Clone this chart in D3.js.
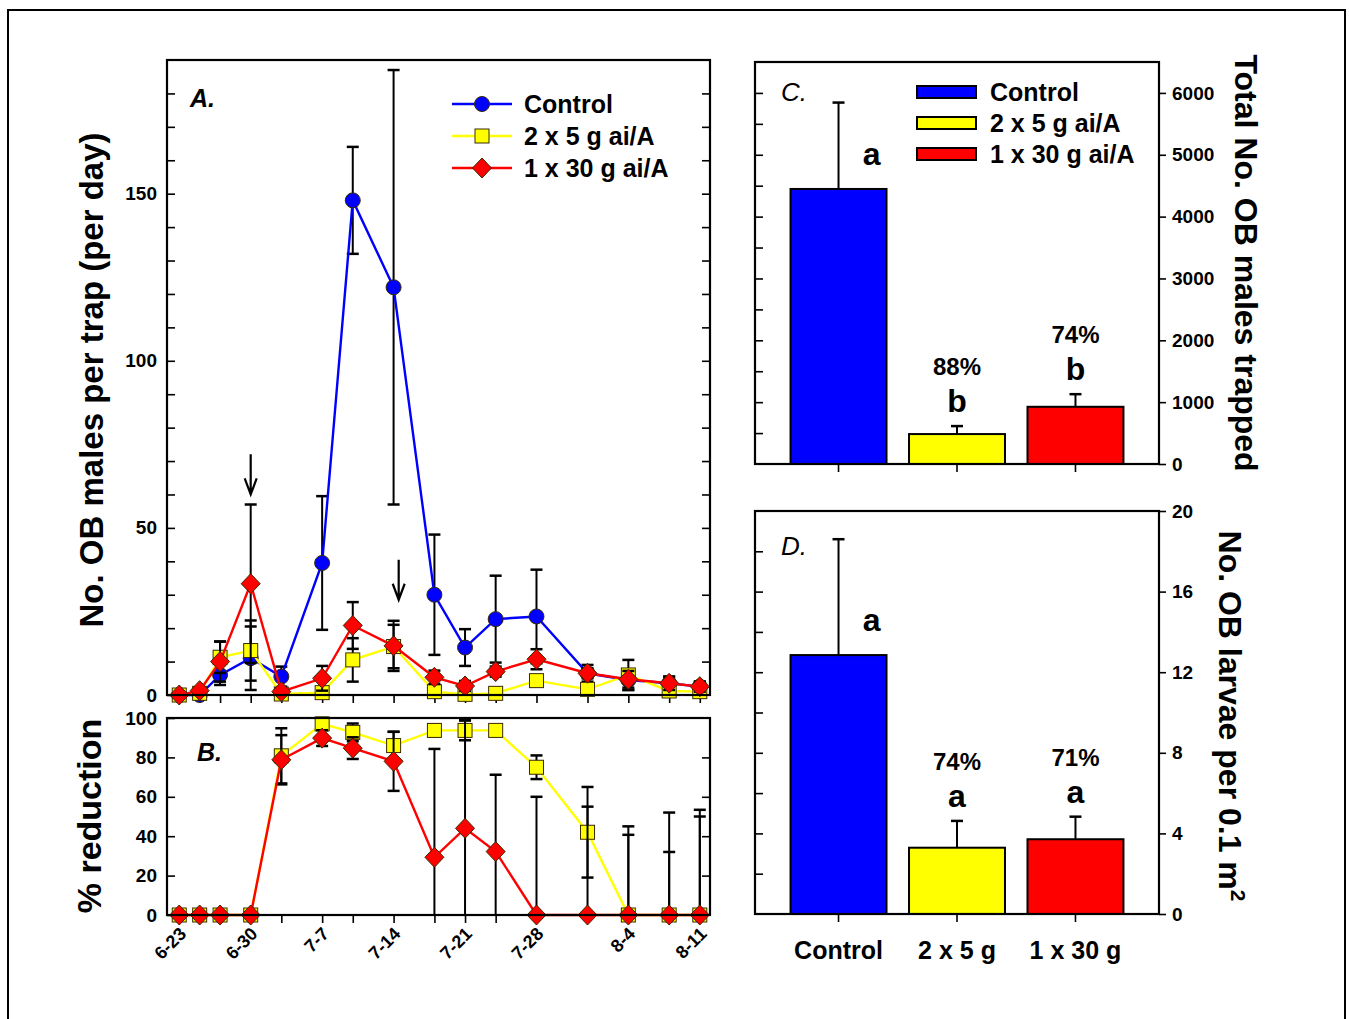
<!DOCTYPE html>
<html>
<head>
<meta charset="utf-8">
<script src="https://cdn.jsdelivr.net/npm/d3@7"></script>
<style>
  body { margin: 0; background: #fff; }
  text { font-family: "Liberation Sans", Arial, sans-serif; font-weight: bold; fill: #000; }
  .tick line { stroke: #000; stroke-width: 1.6; }
  .tick text { font-size: 19px; }
</style>
</head>
<body>
<svg id="fig" width="1349" height="1019"></svg>
<script>
"use strict";

// sampling dates, given as days after 6-23
var sampleDays = [0, 2, 4, 7, 10, 14, 17, 21, 25, 28, 31, 35, 40, 44, 48, 51];
var dateTickDays = [0, 7, 14, 21, 28, 35, 44, 51];
var dateTickLabels = ["6-23", "6-30", "7-7", "7-14", "7-21", "7-28", "8-4", "8-11"];

var seriesNames = ["Control", "2 x 5 g ai/A", "1 x 30 g ai/A"];
var seriesColors = ["#0000ff", "#ffff00", "#ff0000"];
var seriesShapes = ["circle", "square", "diamond"];

// A. males per trap per day (mean and SE)
var controlMales = [0, 0, 6, 11, 5.5, 39.5, 148, 122, 30, 14.2, 22.7, 23.5, 6.5, 4.5, 3.5, 2.5];
var controlMalesErr = [0, 0, 3, 9.5, 3, 20, 16, 65, 18, 5.5, 13, 14, 2.5, 3, 2, 1.5];
var lowMales = [0, 0.5, 11.3, 13.3, 0.3, 0.7, 10.5, 14.5, 1, 0.2, 0.5, 4.3, 1.7, 6, 1.2, 1];
var lowMalesErr = [0, 0.5, 4.7, 9, 0.5, 0.8, 6.5, 6.5, 1, 0.3, 0.5, 1.5, 1, 4.5, 1, 0.8];
var highMales = [0, 1.3, 10, 33.3, 1, 5, 20.8, 14.7, 5.3, 2.7, 7, 10.7, 6.5, 4.7, 3.5, 2.5];
var highMalesErr = [0, 0.8, 6, 23.7, 1, 3.7, 7, 7.5, 2, 1.5, 1.5, 3, 1.5, 2.5, 2, 1.5];

// arrows marking the applications
var arrowDays = [7, 21.5];
var arrowTop = [72, 40.5];
var arrowTip = [60, 28.5];

// B. % reduction
var lowReduction = [0, 0, 0, 0, 80.8, 97, 92.7, 86, 93.7, 93.7, 93.7, 75, 42, 0, 0, 0];
var lowReductionErr = [0, 0, 0, 0, 14, 3, 4.5, 7, 3, 5, 0, 6, 23, 40.7, 32, 50];
var highReduction = [0, 0, 0, 0, 78.8, 89.8, 84.7, 78, 29.3, 44, 32.2, 0, 0, 0, 0, 0];
var highReductionErr = [0, 0, 0, 0, 12.5, 4, 5.5, 15, 55, 55, 39, 60, 55, 45, 52, 53.4];

// C. total males trapped
var treatments = ["Control", "2 x 5 g", "1 x 30 g"];
var totalMales = [4447, 484, 925];
var totalMalesErr = [1397, 129, 204];
var totalLetters = ["a", "b", "b"];
var totalPct = ["", "88%", "74%"];

// D. larvae per 0.1 m2
var larvae = [12.85, 3.29, 3.71];
var larvaeErr = [5.75, 1.33, 1.12];
var larvaeLetters = ["a", "a", "a"];
var larvaePct = ["", "74%", "71%"];

var svg = d3.select("#fig");

// outer border of the figure
svg.append("rect")
   .attr("x", 8).attr("y", 10)
   .attr("width", 1337).attr("height", 1100)
   .attr("fill", "none").attr("stroke", "#000").attr("stroke-width", 2);

function frame(l, t, r, b) {
  svg.append("rect")
     .attr("x", l).attr("y", t)
     .attr("width", r - l).attr("height", b - t)
     .attr("fill", "none").attr("stroke", "#000").attr("stroke-width", 2.2);
}

function marker(g, shape, x, y, color) {
  var m;
  if (shape == "circle") {
    m = g.append("circle").attr("cx", x).attr("cy", y).attr("r", 7.5);
  } else if (shape == "square") {
    m = g.append("rect").attr("x", x - 7).attr("y", y - 7).attr("width", 14).attr("height", 14);
  } else {
    m = g.append("path").attr("d", "M" + x + "," + (y - 10) + "L" + (x + 9.5) + "," + y +
                                   "L" + x + "," + (y + 10) + "L" + (x - 9.5) + "," + y + "Z");
  }
  m.attr("fill", color).attr("stroke", "#3a2a00").attr("stroke-width", 1);
}

function errorBar(g, x, y0, y1, capTop, capBottom) {
  g.append("line").attr("x1", x).attr("x2", x).attr("y1", y0).attr("y2", y1)
   .attr("stroke", "#000").attr("stroke-width", 2);
  if (capTop) g.append("line").attr("x1", x - 6).attr("x2", x + 6).attr("y1", y1).attr("y2", y1)
               .attr("stroke", "#000").attr("stroke-width", 2.5);
  if (capBottom) g.append("line").attr("x1", x - 6).attr("x2", x + 6).attr("y1", y0).attr("y2", y0)
               .attr("stroke", "#000").attr("stroke-width", 2.5);
}

// draws one series: error bars, line, symbols
function drawSeries(g, x, y, means, errs, k) {
  var ymax = y.domain()[1];
  means.forEach(function (m, i) {
    if (!errs[i]) return;
    var lo = Math.max(0, m - errs[i]), hi = Math.min(ymax, m + errs[i]);
    errorBar(g, x(sampleDays[i]), y(lo), y(hi), m + errs[i] <= ymax, m - errs[i] > 0);
  });
  var line = d3.line()
               .x(function (d, i) { return x(sampleDays[i]); })
               .y(function (d) { return y(d); });
  g.append("path").datum(means)
   .attr("d", line).attr("fill", "none")
   .attr("stroke", seriesColors[k]).attr("stroke-width", 2.4);
  means.forEach(function (m, i) {
    marker(g, seriesShapes[k], x(sampleDays[i]), y(m), seriesColors[k]);
  });
}

// ---------- panel A ----------
var xDay = d3.scaleLinear().domain([-1.2, 52]).range([167, 710]);
var yA = d3.scaleLinear().domain([0, 190]).range([695, 60]);

svg.append("g").attr("transform", "translate(167,0)")
   .call(d3.axisLeft(yA).tickValues(d3.range(0, 181, 10)).tickSize(-8).tickSizeOuter(0).tickPadding(10)
           .tickFormat(function (d) { return d % 50 == 0 ? d : ""; }));
svg.append("g").attr("transform", "translate(710,0)")
   .call(d3.axisRight(yA).tickValues(d3.range(10, 181, 10)).tickSize(-8).tickSizeOuter(0).tickFormat(""));
svg.append("g").attr("transform", "translate(0,695)")
   .call(d3.axisBottom(xDay).tickValues(sampleDays).tickSize(8).tickSizeOuter(0).tickFormat(""));

var gA = svg.append("g");
drawSeries(gA, xDay, yA, controlMales, controlMalesErr, 0);
drawSeries(gA, xDay, yA, lowMales, lowMalesErr, 1);
drawSeries(gA, xDay, yA, highMales, highMalesErr, 2);

arrowDays.forEach(function (d, i) {
  var ax = xDay(d), t = yA(arrowTop[i]), b = yA(arrowTip[i]);
  svg.append("path")
     .attr("d", "M" + ax + "," + t + "L" + ax + "," + b +
                "M" + (ax - 6) + "," + (b - 16) + "L" + ax + "," + b + "L" + (ax + 6) + "," + (b - 16))
     .attr("fill", "none").attr("stroke", "#000").attr("stroke-width", 2.2);
});
frame(167, 60, 710, 695);

svg.append("text").attr("x", 190).attr("y", 107)
   .style("font-size", "25px").style("font-style", "italic").text("A.");

// legend of panel A
seriesNames.forEach(function (name, k) {
  var ly = 104 + k * 32;
  svg.append("line").attr("x1", 452).attr("x2", 512).attr("y1", ly).attr("y2", ly)
     .attr("stroke", seriesColors[k]).attr("stroke-width", 2.4);
  marker(svg, seriesShapes[k], 482, ly, seriesColors[k]);
  svg.append("text").attr("x", 524).attr("y", ly + 9)
     .style("font-size", "25px").text(name);
});

svg.append("text")
   .attr("transform", "translate(103,380) rotate(-90)")
   .attr("text-anchor", "middle")
   .style("font-size", "33px").text("No. OB males per trap (per day)");

// ---------- panel B ----------
var yB = d3.scaleLinear().domain([0, 100]).range([915, 718]);

svg.append("g").attr("transform", "translate(167,0)")
   .call(d3.axisLeft(yB).tickValues(d3.range(0, 101, 20)).tickSize(-8).tickSizeOuter(0).tickPadding(10));
svg.append("g").attr("transform", "translate(710,0)")
   .call(d3.axisRight(yB).tickValues(d3.range(20, 81, 20)).tickSize(-8).tickSizeOuter(0).tickFormat(""));
svg.append("g").attr("transform", "translate(0,915)")
   .call(d3.axisBottom(xDay).tickValues(sampleDays).tickSize(8).tickSizeOuter(0).tickFormat(""));

var gB = svg.append("g");
drawSeries(gB, xDay, yB, lowReduction, lowReductionErr, 1);
drawSeries(gB, xDay, yB, highReduction, highReductionErr, 2);
frame(167, 718, 710, 915);

dateTickDays.forEach(function (d, i) {
  svg.append("text")
     .attr("transform", "translate(" + (xDay(d) + 8) + ",935) rotate(-45)")
     .attr("text-anchor", "end")
     .style("font-size", "18px").text(dateTickLabels[i]);
});

svg.append("text").attr("x", 197).attr("y", 761)
   .style("font-size", "25px").style("font-style", "italic").text("B.");

svg.append("text")
   .attr("transform", "translate(101,816) rotate(-90)")
   .attr("text-anchor", "middle")
   .style("font-size", "34px").text("% reduction");

// ---------- panels C and D: bars ----------
var xBar = d3.scaleBand().domain(treatments).range([755, 1159])
             .paddingInner(0.19).paddingOuter(0.3);

function barPanel(top, bottom, yMax, values, errs, letters, pcts, minorStep, majorStep, fmt) {
  var y = d3.scaleLinear().domain([0, yMax]).range([bottom, top]);
  svg.append("g").attr("transform", "translate(755,0)")
     .call(d3.axisLeft(y).tickValues(d3.range(minorStep, yMax, minorStep)).tickSize(-8).tickSizeOuter(0).tickFormat(""));
  svg.append("g").attr("transform", "translate(1159,0)")
     .call(d3.axisRight(y).tickValues(d3.range(0, yMax + 0.001, majorStep)).tickSize(7).tickSizeOuter(0).tickPadding(6)
             .tickFormat(fmt));
  svg.append("g").attr("transform", "translate(0," + bottom + ")")
     .call(d3.axisBottom(xBar).tickSize(8).tickSizeOuter(0).tickFormat(""));

  treatments.forEach(function (t, i) {
    var cx = xBar(t) + xBar.bandwidth() / 2;
    var errTop = y(values[i] + errs[i]);
    errorBar(svg, cx, y(values[i]), errTop, true, false);
    svg.append("rect")
       .attr("x", xBar(t)).attr("y", y(values[i]))
       .attr("width", xBar.bandwidth()).attr("height", bottom - y(values[i]))
       .attr("fill", seriesColors[i]).attr("stroke", "#000").attr("stroke-width", 2);
    if (i == 0) {
      svg.append("text").attr("x", cx + 33).attr("y", y(values[i]) - 24)
         .attr("text-anchor", "middle").style("font-size", "32px").text(letters[i]);
    } else {
      svg.append("text").attr("x", cx).attr("y", errTop - 14)
         .attr("text-anchor", "middle").style("font-size", "32px").text(letters[i]);
      svg.append("text").attr("x", cx).attr("y", errTop - 51)
         .attr("text-anchor", "middle").style("font-size", "24px").text(pcts[i]);
    }
  });
  frame(755, top, 1159, bottom);
  return y;
}

// C
barPanel(62, 464, 6500, totalMales, totalMalesErr, totalLetters, totalPct, 500, 1000, d3.format("d"));
svg.append("text").attr("x", 781).attr("y", 101)
   .style("font-size", "26px").style("font-style", "italic").style("font-weight", "normal").text("C.");

seriesNames.forEach(function (name, k) {
  var ly = 92 + k * 31;
  svg.append("rect").attr("x", 917).attr("y", ly - 6).attr("width", 59).attr("height", 12)
     .attr("fill", seriesColors[k]).attr("stroke", "#000").attr("stroke-width", 2);
  svg.append("text").attr("x", 990).attr("y", ly + 9)
     .style("font-size", "25px").text(name);
});

svg.append("text")
   .attr("transform", "translate(1235,263) rotate(90)")
   .attr("text-anchor", "middle")
   .style("font-size", "32px").text("Total No. OB males trapped");

// D
barPanel(511, 914, 20, larvae, larvaeErr, larvaeLetters, larvaePct, 2, 4, d3.format("d"));
svg.append("text").attr("x", 781).attr("y", 555)
   .style("font-size", "26px").style("font-style", "italic").style("font-weight", "normal").text("D.");

treatments.forEach(function (t) {
  svg.append("text").attr("x", xBar(t) + xBar.bandwidth() / 2).attr("y", 959)
     .attr("text-anchor", "middle").style("font-size", "25px").text(t);
});

var dTitle = svg.append("text")
   .attr("transform", "translate(1219,716) rotate(90)")
   .attr("text-anchor", "middle")
   .style("font-size", "32px");
dTitle.append("tspan").text("No. OB larvae per 0.1 m");
dTitle.append("tspan").attr("dy", -12).style("font-size", "21px").text("2");
</script>
</body>
</html>
